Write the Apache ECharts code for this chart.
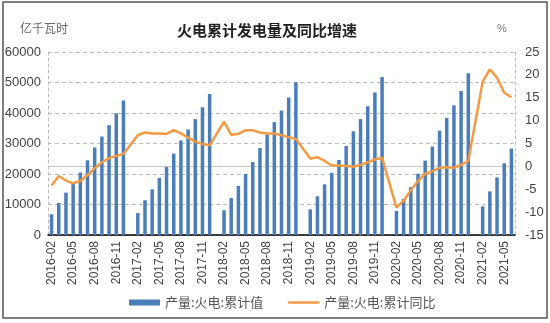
<!DOCTYPE html>
<html>
<head>
<meta charset="utf-8">
<script src="https://cdn.jsdelivr.net/npm/echarts@6/dist/echarts.min.js"></script>
<style>
  html, body { margin: 0; padding: 0; background: #fff; }
  #chart { width: 550px; height: 323px; }
</style>
</head>
<body>
<div id="chart"></div>
<script>
// Months shown on the category axis (January figures are folded into February)
const months = [
  '2016-02','2016-03','2016-04','2016-05','2016-06','2016-07','2016-08','2016-09','2016-10','2016-11','2016-12',
  '2017-01','2017-02','2017-03','2017-04','2017-05','2017-06','2017-07','2017-08','2017-09','2017-10','2017-11','2017-12',
  '2018-01','2018-02','2018-03','2018-04','2018-05','2018-06','2018-07','2018-08','2018-09','2018-10','2018-11','2018-12',
  '2019-01','2019-02','2019-03','2019-04','2019-05','2019-06','2019-07','2019-08','2019-09','2019-10','2019-11','2019-12',
  '2020-01','2020-02','2020-03','2020-04','2020-05','2020-06','2020-07','2020-08','2020-09','2020-10','2020-11','2020-12',
  '2021-01','2021-02','2021-03','2021-04','2021-05','2021-06'
];

// 产量:火电:累计值 (亿千瓦时)
const thermalCumulative = [
  6800, 10500, 13900, 17200, 20500, 24500, 28700, 32300, 36000, 39900, 44100,
  null, 7200, 11400, 15000, 18700, 22300, 26700, 31000, 34600, 38000, 41900, 46200,
  null, 8100, 12100, 16100, 20000, 23900, 28500, 32900, 37000, 40800, 45100, 50100,
  null, 8400, 12700, 16600, 20400, 24600, 29200, 34000, 38000, 42200, 46700, 51800,
  null, 7900, 11800, 15700, 20100, 24400, 29000, 34200, 38400, 42500, 47200, 53000,
  null, 9400, 14300, 18900, 23500, 28300
];

// 产量:火电:累计同比 (%)
const thermalYoY = [
  -4.2, -2.1, -3.1, -3.7, -3.2, -1.9, -0.4, 0.9, 1.8, 2.3, 2.7,
  null, 6.8, 7.4, 7.2, 7.2, 7.1, 7.9, 7.2, 6.3, 5.4, 4.9, 4.6,
  null, 9.8, 6.9, 7.1, 7.9, 7.9, 7.4, 7.2, 7.2, 6.8, 6.4, 6.0,
  null, 1.7, 2.0, 1.2, 0.2, 0.2, 0.1, -0.1, 0.3, 0.9, 1.5, 1.9,
  null, -9.0, -7.5, -5.2, -3.2, -1.6, -1.1, -0.3, -0.2, -0.3, 0.3, 1.2,
  null, 18.5, 21.2, 19.4, 16.1, 15.1
];

const barName = '产量:火电:累计值';
const lineName = '产量:火电:累计同比';

const chart = echarts.init(document.getElementById('chart'));
const labelFont = 'Liberation Sans, Arial, sans-serif';
const cjkFont = '"Noto Sans CJK SC", sans-serif';

chart.setOption({
  backgroundColor: '#fff',
  animation: false,
  title: [
    { text: '火电累计发电量及同比增速', left: 262, top: 18, textAlign: 'center',
      textStyle: { fontFamily: cjkFont, fontSize: 15, fontWeight: 'bold', color: '#222' } },
    { text: '亿千瓦时', left: 15, top: 17,
      textStyle: { fontFamily: cjkFont, fontSize: 12, fontWeight: 'normal', color: '#666' } },
    { text: '%', left: 492, top: 18,
      textStyle: { fontFamily: labelFont, fontSize: 11, fontWeight: 'normal', color: '#777' } }
  ],
  graphic: [
    { type: 'rect', shape: { x: 3, y: 2, width: 544, height: 316 },
      style: { fill: 'none', stroke: '#555', lineWidth: 1.5 }, silent: true }
  ],
  legend: {
    left: 124, top: 291,
    itemGap: 25, itemWidth: 31, itemHeight: 6,
    textStyle: { fontFamily: cjkFont, fontSize: 13, color: '#555' },
    data: [
      { name: barName, icon: 'rect' },
      // thin band centred in the 31x6 legend box
      { name: lineName, icon: 'path://M0,0M31,6M0,1.75H31V4.25H0Z' }
    ]
  },
  grid: { left: 48, right: 35, top: 52, bottom: 88 },
  xAxis: [
    {
      type: 'category',
      data: months,
      boundaryGap: true,
      axisLine: { lineStyle: { color: '#000', width: 1.5 } },
      axisTick: { interval: 2, length: 4, lineStyle: { color: '#000' } },
      axisLabel: { interval: 2, rotate: 90, margin: 6, fontFamily: labelFont, fontSize: 12, color: '#444' },
      splitLine: { show: false }
    },
    {
      // frame line along the top of the plot
      type: 'category',
      data: months,
      position: 'top',
      axisLine: { lineStyle: { color: '#c8c8c8', width: 1 } },
      axisTick: { show: false },
      axisLabel: { show: false }
    }
  ],
  yAxis: [
    {
      type: 'value',
      min: 0, max: 60000, interval: 10000,
      axisLine: { show: true, lineStyle: { color: '#bbb', type: [3, 3] } },
      axisTick: { show: false },
      axisLabel: { margin: 7, fontFamily: labelFont, fontSize: 13, color: '#444',
        formatter: (v) => String(v) },
      splitLine: { show: true, lineStyle: { color: '#bdbdbd', type: [4, 3] } }
    },
    {
      type: 'value',
      min: -15, max: 25, interval: 5,
      position: 'right',
      alignTicks: false,
      axisLine: { show: true, lineStyle: { color: '#bbb', type: [3, 3] } },
      axisTick: { show: false },
      axisLabel: { margin: 10, fontFamily: labelFont, fontSize: 13, color: '#444',
        formatter: (v) => String(v) },
      splitLine: { show: false }
    }
  ],
  series: [
    {
      name: barName,
      type: 'bar',
      data: thermalCumulative,
      barWidth: 3.5,
      itemStyle: { color: '#4a7ebb' }
    },
    {
      name: lineName,
      type: 'line',
      yAxisIndex: 1,
      data: thermalYoY,
      connectNulls: true,
      symbol: 'none',
      lineStyle: { color: '#f39a45', width: 2.5 },
      itemStyle: { color: '#f39a45' }
    }
  ]
});
</script>
</body>
</html>
